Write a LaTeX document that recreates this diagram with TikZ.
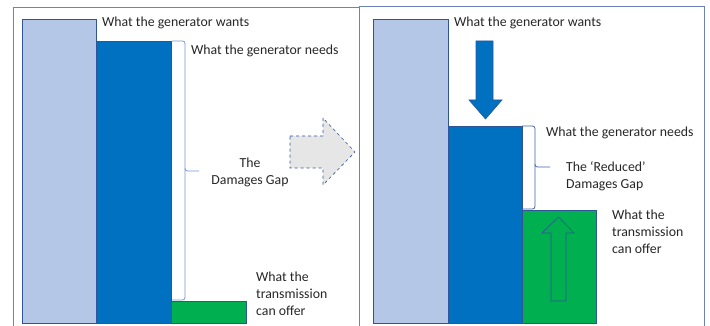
\documentclass[tikz,border=0pt]{standalone}
\usepackage{fontspec}
\setmainfont{Carlito}
\usetikzlibrary{calc}
\definecolor{wantfill}{RGB}{180,199,231}
\definecolor{needfill}{RGB}{0,112,192}
\definecolor{offerfill}{RGB}{0,176,80}
\definecolor{barline}{RGB}{47,85,151}
\definecolor{framecol}{RGB}{110,130,185}
\definecolor{bracecol}{RGB}{120,150,210}
\definecolor{txt}{RGB}{38,38,38}
\definecolor{arrowgray}{RGB}{231,230,230}
\tikzstyle{bar} = [draw=barline, line width=0.6pt]
\tikzstyle{lbl} = [inner sep=0pt, anchor=west, text=txt, align=left, font=\fontsize{13.8}{16.8}\selectfont]
\tikzstyle{gapbrace} = [draw=bracecol, line width=0.8pt, rounded corners=2.5pt]
\tikzstyle{blockarrow} = [draw=barline, line width=0.6pt]

\begin{document}
\begin{tikzpicture}[x=1pt, y=-1pt]
        \useasboundingbox (0,0) rectangle (710,326);
        % frames of the two panels
        \draw[framecol, line width=0.9pt] (13,330) -- (13,7) -- (359,7) -- (359,330);
        \draw[framecol, line width=0.9pt] (359,6) -- (704,6) -- (704,330);

        % left panel: before
        \path[bar, fill=wantfill] (22,19) rectangle (96,323);
        \path[bar, fill=needfill] (96,41) rectangle (171,323);
        \path[bar, fill=offerfill] (171,301) rectangle (246,323);
        \coordinate (gapTop) at (172,41);
        \coordinate (gapBot) at (172,300);
        \coordinate (gapTip) at (199,171);
        \path[gapbrace] (gapTop) -- ($(gapTop)+(13,0)$) -- ($(gapTop)+(13,130)$) -- (gapTip);
        \path[gapbrace] (gapBot) -- ($(gapBot)+(13,0)$) -- ($(gapBot)+(13,-129)$) -- ($(gapTip)+(-14,0)$);
        \node[lbl] (wantsA) at (102,23) {What the generator wants};
        \node[lbl] (needsA) at (191,51) {What the generator needs};
        \node[lbl, anchor=center, align=center] (gapA) at (250,172) {The\\Damages Gap};
        \node[lbl] (offerA) at (256,294) {What the\\transmission\\can offer};

        % dashed arrow between the panels
        \path[draw=barline, dashed, line width=0.6pt, fill=arrowgray]
            (290,136) -- (323,136) -- (323,118) -- (355,152) -- (323,185) -- (323,168) -- (290,168) -- cycle;

        % right panel: after
        \path[bar, fill=wantfill] (373,19) rectangle (448,323);
        \path[bar, fill=needfill] (448,126) rectangle (522,323);
        \path[bar, fill=offerfill] (522,210) rectangle (596,323);
        \path[blockarrow, fill=needfill]
            (476,41) -- (493,41) -- (493,100) -- (502,100) -- (485.5,119) -- (469,100) -- (476,100) -- cycle;
        \path[blockarrow, fill=offerfill]
            (551,301) -- (566,301) -- (566,233) -- (574,233) -- (558.5,217) -- (542,233) -- (551,233) -- cycle;
        \coordinate (rgapTop) at (522,126);
        \coordinate (rgapBot) at (522,209);
        \coordinate (rgapTip) at (550,167);
        \path[gapbrace, draw=barline!80!bracecol] (rgapTop) -- ($(rgapTop)+(13,0)$) -- ($(rgapTop)+(13,41)$) -- (rgapTip);
        \path[gapbrace, draw=barline!80!bracecol] (rgapBot) -- ($(rgapBot)+(13,0)$) -- ($(rgapBot)+(13,-42)$) -- ($(rgapTip)+(-15,0)$);
        \node[lbl] (wantsB) at (454,23) {What the generator wants};
        \node[lbl] (needsB) at (546,133) {What the generator needs};
        \node[lbl] (gapB) at (566,176) {The ‘Reduced’\\Damages Gap};
        \node[lbl] (offerB) at (612,232) {What the\\transmission\\can offer};
\end{tikzpicture}
\end{document}
